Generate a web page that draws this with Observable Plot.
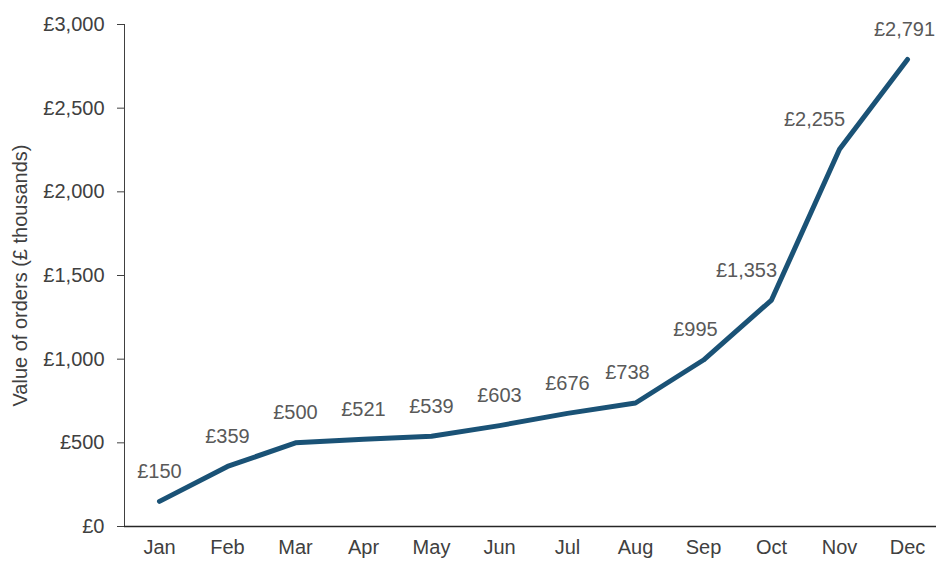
<!DOCTYPE html>
<html>
<head>
<meta charset="utf-8">
<script src="https://cdn.jsdelivr.net/npm/d3@7"></script>
<script src="https://cdn.jsdelivr.net/npm/@observablehq/plot@0.6"></script>
<style>
  html, body { margin: 0; padding: 0; background: #fff; }
</style>
</head>
<body>
<div id="chart"></div>
<script>
const months = ["Jan","Feb","Mar","Apr","May","Jun","Jul","Aug","Sep","Oct","Nov","Dec"];
const orderValues = [150, 359, 500, 521, 539, 603, 676, 738, 995, 1353, 2255, 2791];
const yTicks = [0, 500, 1000, 1500, 2000, 2500, 3000];

const data = months.map((m, i) => ({month: m, value: orderValues[i]}));
const fmt = v => "£" + d3.format(",")(v);

const centered = new Set(["Jan","Feb","Mar","Apr","May","Jun","Jul"]);
const edge = new Set(["Dec"]);
const slight = new Set(["Aug","Sep"]);
const strong = new Set(["Oct","Nov"]);

const labelStyle = {x: "month", y: "value", text: d => fmt(d.value), dy: -30,
  fill: "#595959", fontSize: 20, fontFamily: "Liberation Sans, Arial, sans-serif"};

const chart = Plot.plot({
  width: 936,
  height: 561,
  marginLeft: 124,
  marginRight: 0,
  marginTop: 24,
  marginBottom: 35,
  style: {fontFamily: "Liberation Sans, Arial, sans-serif", fontSize: "20px", color: "#404040", background: "#fff"},
  x: {type: "point", domain: months, range: [158, 907], padding: 0, tickSize: 0, tickPadding: 13, label: null},
  y: {domain: [0, 3000], ticks: yTicks, tickFormat: fmt, tickSize: 7, tickPadding: 13, line: true,
      label: "Value of orders (£ thousands)", labelArrow: "none", labelAnchor: "center", labelOffset: 112},
  marks: [
    Plot.ruleY([0], {stroke: "#262626", strokeWidth: 1.5}),
    Plot.line(data, {x: "month", y: "value", stroke: "#1a5276", strokeWidth: 5, strokeLinejoin: "round", strokeLinecap: "round"}),
    Plot.text(data.filter(d => centered.has(d.month)), {...labelStyle}),
    Plot.text(data.filter(d => edge.has(d.month)), {...labelStyle, dx: -3}),
    Plot.text(data.filter(d => slight.has(d.month)), {...labelStyle, dx: -8}),
    Plot.text(data.filter(d => strong.has(d.month)), {...labelStyle, dx: -25})
  ]
});
document.getElementById("chart").appendChild(chart);
</script>
</body>
</html>
